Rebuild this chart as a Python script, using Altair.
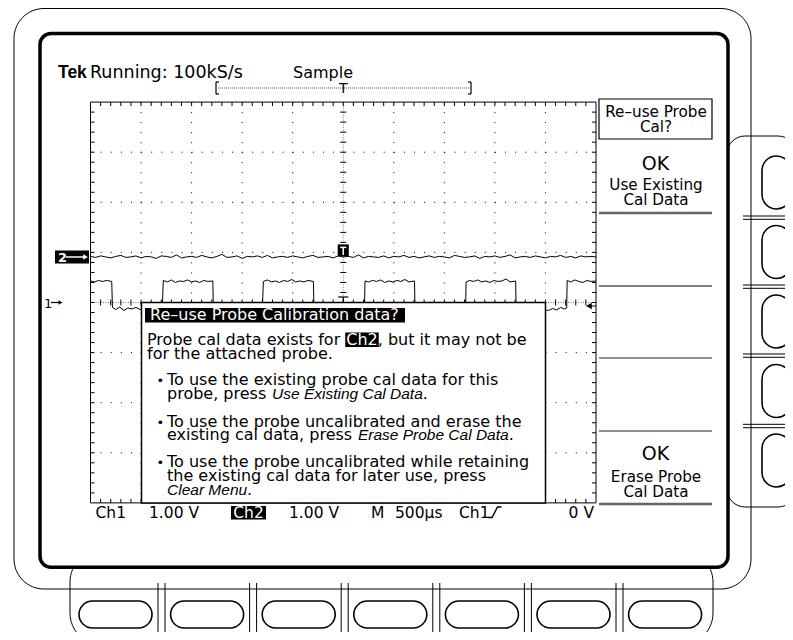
import altair as alt
import pandas as pd

# ---------------- waveform data ----------------
# CH1: probe-compensation square wave, time in ms, amplitude in volts (1 V/div)
ch1_t = [0.00, 0.04, 0.08, 0.12, 0.16, 0.21,
         0.217, 0.25, 0.29, 0.33, 0.37, 0.41, 0.45, 0.49, 0.60, 0.71,
         0.72, 0.76, 0.80, 0.84, 0.88, 0.92, 0.96, 1.00, 1.04, 1.08, 1.12, 1.16, 1.21,
         1.215, 1.45, 1.70,
         1.71, 1.75, 1.79, 1.83, 1.87, 1.91, 1.95, 1.99, 2.03, 2.07, 2.11, 2.15, 2.205,
         2.21, 2.45, 2.71,
         2.715, 2.75, 2.79, 2.83, 2.87, 2.91, 2.95, 2.99, 3.03, 3.07, 3.11, 3.15, 3.205,
         3.21, 3.45, 3.71,
         3.715, 3.75, 3.79, 3.83, 3.87, 3.91, 3.95, 3.99, 4.03, 4.07, 4.11, 4.15, 4.205,
         4.21, 4.40, 4.53, 4.57, 4.61, 4.65, 4.69, 4.71,
         4.715, 4.75, 4.79, 4.83, 4.87, 4.91, 4.95, 5.00]
ch1_v = [0.43, 0.41, 0.44, 0.42, 0.44, 0.42,
         -0.10, -0.14, -0.09, -0.16, -0.11, -0.13, -0.10, -0.14, -0.12, -0.13,
         0.44, 0.41, 0.45, 0.40, 0.43, 0.42, 0.45, 0.41, 0.43, 0.40, 0.44, 0.42, 0.43,
         -0.12, -0.13, -0.11,
         0.42, 0.45, 0.41, 0.43, 0.40, 0.44, 0.42, 0.46, 0.41, 0.43, 0.41, 0.44, 0.42,
         -0.12, -0.14, -0.12,
         0.43, 0.41, 0.44, 0.42, 0.45, 0.40, 0.43, 0.41, 0.44, 0.42, 0.46, 0.41, 0.43,
         -0.13, -0.11, -0.12,
         0.41, 0.44, 0.42, 0.45, 0.41, 0.43, 0.40, 0.44, 0.42, 0.43, 0.47, 0.41, 0.43,
         -0.12, -0.13, -0.16, -0.12, -0.15, -0.10, -0.13, -0.11,
         0.44, 0.41, 0.45, 0.42, 0.40, 0.44, 0.42, 0.43]
ch1_level = -0.07          # trigger level (div)

# CH2: flat baseline with noise, volts, one sample every 0.05 ms; position +0.91 div
ch2_v = [0.01, -0.01, 0.02, 0.00, -0.02, 0.01, 0.03, -0.01, 0.00, 0.02,
         -0.02, 0.01, 0.00, -0.03, 0.02, 0.01, -0.01, 0.04, -0.02, 0.00,
         0.01, -0.01, 0.03, 0.00, -0.02, 0.01, 0.05, -0.01, 0.00, 0.02,
         -0.03, 0.01, 0.00, 0.02, -0.01, 0.03, -0.02, 0.00, 0.01, -0.01,
         0.02, 0.00, -0.02, 0.01, 0.03, -0.01, 0.00, 0.01, -0.02, 0.02,
         0.00, 0.01, -0.01, 0.04, -0.02, 0.01, 0.00, -0.01, 0.02, -0.02,
         0.01, 0.00, 0.03, -0.01, 0.01, -0.02, 0.00, 0.02, -0.01, 0.01,
         0.00, -0.02, 0.03, 0.01, -0.01, 0.00, 0.02, -0.03, 0.01, 0.00,
         0.02, -0.01, 0.01, 0.04, -0.02, 0.00, 0.01, -0.01, 0.02, 0.00,
         -0.02, 0.01, 0.00, 0.03, -0.01, 0.01, -0.02, 0.02, 0.00, 0.01,
         0.00]
ch2_pos = 0.91
ch2_dt = 0.05

# ---------------- texts ----------------
header_logo = "Tek"
header_texts = ["Running: 100kS/s", "Sample"]
status_texts = ["Ch1", "1.00 V", "1.00 V", "M", "500µs", "Ch1", "0 V"]
status_box = "Ch2"
menu_title = ["Re–use Probe", "Cal?"]
menu_top = ["OK", "Use Existing", "Cal Data"]
menu_bottom = ["OK", "Erase Probe", "Cal Data"]
dialog_title = "Re–use Probe Calibration data?"
dialog_lines = [
    [("Probe cal data exists for ", "n"), ("Ch2", "box"), (", but it may not be", "n")],
    [("for the attached probe.", "n")],
    [("To use the existing probe cal data for this", "n")],
    [("probe, press ", "n"), ("Use Existing Cal Data", "i"), (".", "n")],
    [("To use the probe uncalibrated and erase the", "n")],
    [("existing cal data, press ", "n"), ("Erase Probe Cal Data", "i"), (".", "n")],
    [("To use the probe uncalibrated while retaining", "n")],
    [("the existing cal data for later use, press", "n")],
    [("Clear Menu", "i"), (".", "n")],
]
dialog_bullet = [False, False, True, False, True, False, True, False, False]
dialog_base = [345, 358.5, 385, 399, 427, 440, 467, 480.5, 495]

# ---------------- layout ----------------
SANS = "DejaVu Sans"
ITAL = "Liberation Sans"
FS = 16
FI = 15.5
YMAX = 632
PX = alt.Scale(domain=[8, 785], nice=False, zero=False)
PY = alt.Scale(domain=[8, YMAX], reverse=True, nice=False, zero=False)
GL, GR, GC, GPD = 90.5, 596.0, 302.5, 50.1
tpp = 5.0 / (GR - GL)
GX = alt.Scale(domain=[(8 - GL) * tpp, (785 - GL) * tpp], nice=False, zero=False)
GY = alt.Scale(domain=[(GC - YMAX) / GPD, (GC - 8) / GPD], nice=False, zero=False)

DV = {" ": 651, ",": 651, ".": 651, "C": 1430, "P": 1235, "2": 1303, "a": 1255,
      "b": 1300, "c": 1126, "d": 1300, "e": 1260, "f": 721, "g": 1300, "h": 1298,
      "i": 569, "l": 569, "n": 1298, "o": 1253, "p": 1300, "r": 842, "s": 1067,
      "t": 803, "x": 1212}
LS = {" ": 278, "C": 722, "D": 722, "E": 667, "M": 833, "P": 667, "U": 722, "a": 556,
      "b": 556, "e": 556, "g": 556, "i": 222, "l": 222, "n": 556, "o": 556, "r": 333,
      "s": 500, "t": 278, "u": 556, "x": 500}


def w_dv(s, size):
    return sum(DV.get(c, 1200) for c in s) / 2048.0 * size


def w_ls(s, size):
    return sum(LS.get(c, 550) for c in s) / 1000.0 * size


def _xy(space):
    return (PX, PY) if space == "px" else (GX, GY)


def rects(df, space="px", **kw):
    xs, ys = _xy(space)
    return alt.Chart(df).mark_rect(clip=True, **kw).encode(
        x=alt.X("x0:Q", scale=xs, axis=None), x2="x1:Q",
        y=alt.Y("y0:Q", scale=ys, axis=None), y2="y1:Q")


def rules(df, space="px", **kw):
    xs, ys = _xy(space)
    return alt.Chart(df).mark_rule(clip=True, **kw).encode(
        x=alt.X("x0:Q", scale=xs, axis=None), x2="x1:Q",
        y=alt.Y("y0:Q", scale=ys, axis=None), y2="y1:Q")


def R(x0, x1, y0, y1):
    return pd.DataFrame(dict(x0=x0, x1=x1, y0=y0, y1=y1))


def points(df, space="px", **kw):
    xs, ys = _xy(space)
    return alt.Chart(df).mark_point(**kw).encode(
        x=alt.X("x:Q", scale=xs, axis=None), y=alt.Y("y:Q", scale=ys, axis=None))


TEXTS = []


def T(text, x, y, size=FS, align="left", weight="normal", style="normal",
      color="black", font=SANS, baseline="alphabetic"):
    TEXTS.append(dict(text=text, x=x, y=y, size=size, align=align, weight=weight,
                      style=style, color=color, font=font, baseline=baseline))


layers = []

# ---- bezel, side and bottom button bays ----
layers.append(rects(R([727], [796], [136], [507]), fill="white", stroke="black",
                    strokeWidth=1, cornerRadius=18))
layers.append(rects(R([70], [713], [550], [645]), fill="white", stroke="black",
                    strokeWidth=1, cornerRadius=32))
layers.append(rects(R([14], [751], [8.5], [589]), fill="white", fillOpacity=0,
                    stroke="black", strokeWidth=1, cornerRadius=30))
rd = [216, 219.3, 285, 288.3, 354, 357.3, 424.3, 427.7]
layers.append(rules(R([743] * len(rd), [796] * len(rd), rd, rd), stroke="black", strokeWidth=1))
bd = []
for k in range(6):
    bd += [158 + 91.6 * k, 165 + 91.6 * k]
layers.append(rules(R(bd, bd, [583] * len(bd), [645] * len(bd)), stroke="black", strokeWidth=1))
ry = [156 + 69.5 * k for k in range(5)]
layers.append(rects(R([762] * 5, [791] * 5, ry, [y + 53 for y in ry]), fill="white",
                    stroke="black", strokeWidth=1.6, cornerRadius=14.5))
bx = [79 + 91.6 * k for k in range(7)]
layers.append(rects(R(bx, [x + 73 for x in bx], [601] * 7, [628] * 7), fill="white",
                    stroke="black", strokeWidth=1.6, cornerRadius=13.5))
# screen
layers.append(rects(R([40], [728], [33.5], [567.3]), fill="white", stroke="black",
                    strokeWidth=3.5, cornerRadius=11))

# ---- graticule (time ms / divisions) ----
vg = [0.5, 1, 1.5, 2, 3, 3.5, 4, 4.5]
layers.append(rules(R(vg, vg, [4] * 8, [-4] * 8), "g", stroke="black", strokeWidth=1,
                    strokeDash=[1, GPD / 5 - 1]))
hg = [3, 2, 1, -1, -2, -3]
layers.append(rules(R([0] * 6, [5] * 6, hg, hg), "g", stroke="black", strokeWidth=1,
                    strokeDash=[1, (GR - GL) / 50 - 1]))
layers.append(rules(R([2.5, 0], [2.5, 5], [4, 0], [-4, 0]), "g", stroke="#777",
                    strokeWidth=1, strokeDash=[1, 1.5]))
tx0, tx1, ty0, ty1 = [], [], [], []
for i in range(1, 50):
    t = i * 0.1
    tx0 += [t, t, t]; tx1 += [t, t, t]
    ty0 += [4, -4, -0.06]; ty1 += [4 - 0.08, -4 + 0.08, 0.06]
for i in range(1, 40):
    v = -4 + i * 0.2
    tx0 += [0, 5, 2.5 - 0.03]; tx1 += [0.04, 5 - 0.04, 2.5 + 0.03]
    ty0 += [v, v, v]; ty1 += [v, v, v]
layers.append(rules(R(tx0, tx1, ty0, ty1), "g", stroke="black", strokeWidth=1))
layers.append(rects(R([0], [5], [-4], [4]), "g", fill="white", fillOpacity=0,
                    stroke="black", strokeWidth=1))

# ---- traces ----
ch2 = pd.DataFrame(dict(t=[i * ch2_dt for i in range(len(ch2_v))],
                        v=[v + ch2_pos for v in ch2_v], i=list(range(len(ch2_v)))))
ch1 = pd.DataFrame(dict(t=ch1_t, v=ch1_v, i=list(range(len(ch1_t)))))
for df in (ch2, ch1):
    layers.append(alt.Chart(df).mark_line(color="black", strokeWidth=1).encode(
        x=alt.X("t:Q", scale=GX, axis=None), y=alt.Y("v:Q", scale=GY, axis=None),
        order="i:Q"))

# trigger markers
layers.append(rects(R([2.445], [2.555], [ch2_pos + 0.01], [ch2_pos + 0.25]), "g", fill="black"))
layers.append(rules(R([2.5], [2.5], [ch2_pos + 0.04], [ch2_pos + 0.19]), "g",
                    stroke="white", strokeWidth=1.5))
layers.append(rules(R([2.47], [2.53], [ch2_pos + 0.19], [ch2_pos + 0.19]), "g",
                    stroke="white", strokeWidth=1.5))
layers.append(rules(R([2.45, 2.5], [2.55, 2.5], [0.11, 0.11], [0.11, 0.0]), "g",
                    stroke="black", strokeWidth=1.2))
layers.append(points(pd.DataFrame(dict(x=[4.93], y=[ch1_level])), "g", shape="triangle-left",
                     filled=True, color="black", size=45, opacity=1))
layers.append(rules(R([4.95], [5.0], [ch1_level], [ch1_level]), "g", stroke="black", strokeWidth=1))

# channel ground markers
layers.append(rects(R([55], [89], [250.5], [263.5]), fill="black"))
layers.append(rules(R([66], [84], [257], [257]), stroke="white", strokeWidth=1.5))
layers.append(points(pd.DataFrame(dict(x=[85.5], y=[257])), shape="triangle-right",
                     filled=True, color="white", size=30, opacity=1))
layers.append(rules(R([51], [59], [302.5], [302.5]), stroke="black", strokeWidth=1.2))
layers.append(points(pd.DataFrame(dict(x=[60.5], y=[302.5])), shape="triangle-right",
                     filled=True, color="black", size=22, opacity=1))
T("2", 58, 262, size=13, weight="bold", color="white")
T("1", 44, 307.5, size=13)

# ---- header ----
T(header_logo, 58, 78, size=17.5, weight="bold", font="Liberation Sans Narrow, Liberation Sans")
T(header_texts[0], 90, 77.5, size=17.5)
T(header_texts[1], 293, 77.5, size=16)
layers.append(rules(R([218], [469], [88], [88]), stroke="#555", strokeWidth=1, strokeDash=[1, 1]))
layers.append(rules(R([216, 216, 216, 471, 468, 468], [216, 219, 219, 471, 471, 471],
                      [82, 82, 94, 82, 82, 94], [94, 82, 94, 94, 82, 94]),
                    stroke="black", strokeWidth=1.2))
T("T", 343.25, 93.3, size=14, align="center")

# ---- right-hand menu ----
layers.append(rects(R([599], [712], [99], [139]), fill="white", fillOpacity=0,
                    stroke="black", strokeWidth=1.2))
MS = 15.2
T(menu_title[0], 656, 116.5, size=MS, align="center")
T(menu_title[1], 656, 132, size=MS, align="center")
T(menu_top[0], 655.5, 170, size=19, align="center")
T(menu_top[1], 656, 190, size=MS, align="center")
T(menu_top[2], 656, 205, size=MS, align="center")
T(menu_bottom[0], 655.5, 460, size=19, align="center")
T(menu_bottom[1], 656, 481.5, size=MS, align="center")
T(menu_bottom[2], 656, 496.5, size=MS, align="center")
sep = [(213, "#666", 2.5), (286, "#555", 1.5), (358, "#222", 1.2), (431, "#222", 1.2),
       (504, "#666", 2.5)]
for y, c, w in sep:
    layers.append(rules(R([599], [712], [y], [y]), stroke=c, strokeWidth=w))

# ---- status line ----
SS = 15.5
sx = [95.5, 149, 289, 371, 395, 459]
for s, x in zip(status_texts[:6], sx):
    T(s, x, 517.6, size=SS)
T(status_texts[6], 594, 517.6, size=SS, align="right")
layers.append(rects(R([231], [266], [506], [519.5]), fill="black"))
T(status_box, 248.5, 517.6, size=SS, align="center", color="white")
layers.append(alt.Chart(pd.DataFrame(dict(x=[488, 492, 497.5, 501.5], y=[517.5, 517.5, 507, 507],
                                          i=[0, 1, 2, 3]))).mark_line(
    color="black", strokeWidth=1.4).encode(
    x=alt.X("x:Q", scale=PX, axis=None), y=alt.Y("y:Q", scale=PY, axis=None), order="i:Q"))

# ---- dialog ----
layers.append(rects(R([141.5], [545.5], [302.5], [503]), fill="white", stroke="black",
                    strokeWidth=1.5))
layers.append(rects(R([145], [405], [308], [322.5]), fill="black"))
T(dialog_title, 150, 319.6, size=FS, color="white")
box_rects = []
for segs, bullet, yb in zip(dialog_lines, dialog_bullet, dialog_base):
    x = 147 if yb < 360 else 167
    if bullet:
        T("•", 156.5, yb, size=13)
    for txt, kind in segs:
        if kind == "n":
            T(txt, x, yb)
            x += w_dv(txt, FS)
        elif kind == "i":
            T(txt, x, yb, size=FI, style="italic", font=ITAL)
            x += w_ls(txt, FI)
        else:
            w = w_dv(txt, FS)
            box_rects.append((x - 1, x + w + 1, yb - 12.5, yb + 2))
            T(txt, x, yb, color="white")
            x += w
if box_rects:
    layers.append(rects(R([b[0] for b in box_rects], [b[1] for b in box_rects],
                          [b[2] for b in box_rects], [b[3] for b in box_rects]), fill="black"))

# ---- text layers grouped by style ----
tdf = pd.DataFrame(TEXTS)
keys = ["size", "align", "weight", "style", "color", "font", "baseline"]
for key, g in tdf.groupby(keys, sort=False):
    kw = dict(zip(keys, key))
    layers.append(alt.Chart(g[["x", "y", "text"]].reset_index(drop=True)).mark_text(
        fontSize=float(kw["size"]), align=kw["align"], fontWeight=kw["weight"],
        fontStyle=kw["style"], color=kw["color"], font=kw["font"],
        baseline=kw["baseline"]).encode(
        x=alt.X("x:Q", scale=PX, axis=None), y=alt.Y("y:Q", scale=PY, axis=None),
        text="text:N"))

chart = alt.layer(*layers).resolve_scale(x="independent", y="independent").properties(
    width=777, height=YMAX - 8, padding=0, background="white",
    autosize=alt.AutoSizeParams(type="none")
).configure_view(strokeWidth=0)

chart.save("out.html", embed_options={"renderer": "svg", "actions": False})
